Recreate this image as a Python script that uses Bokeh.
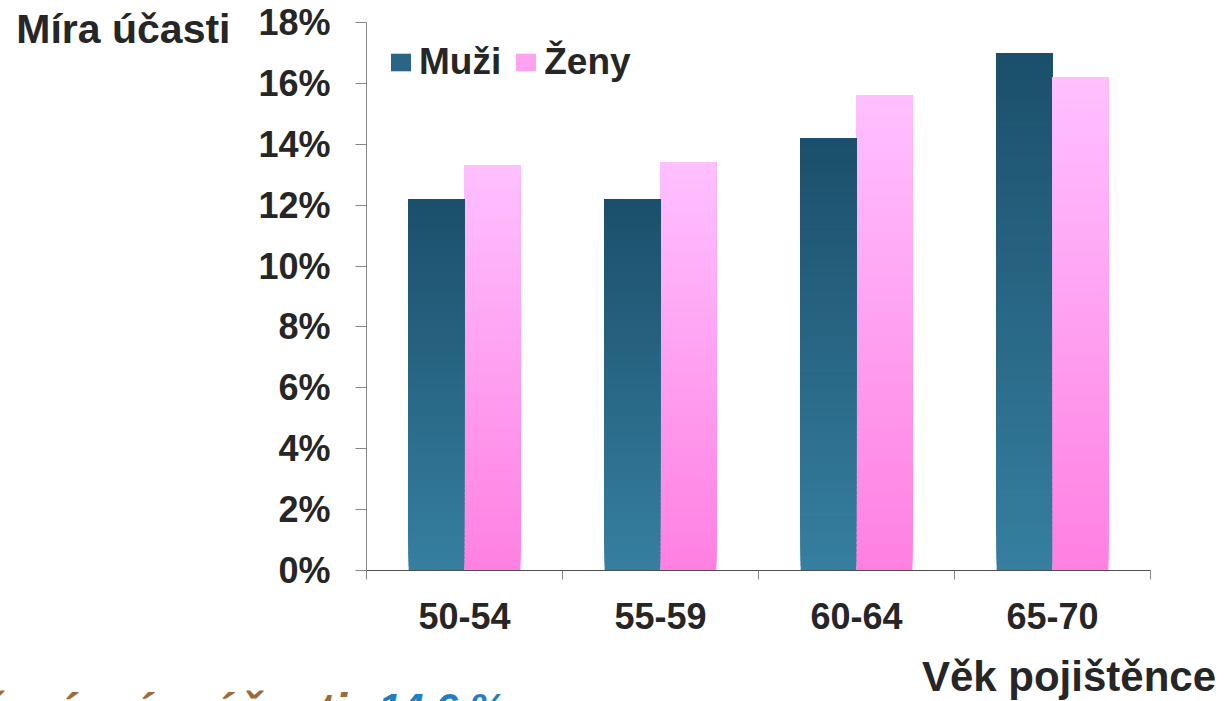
from bokeh.plotting import figure
from bokeh.models import (ColumnDataSource, FixedTicker, PrintfTickFormatter,
                          Legend, LegendItem, Range1d, LinearAxis, Div)
from bokeh.layouts import column
from bokeh.embed import file_html
from bokeh.resources import INLINE

# ---- data ----
categories = ["50-54", "55-59", "60-64", "65-70"]
muzi = [12.2, 12.2, 14.2, 17.0]
zeny = [13.3, 13.4, 15.6, 16.2]
series_names = ["Muži", "Ženy"]
y_ticks = [0, 2, 4, 6, 8, 10, 12, 14, 16, 18]
y_title = "Míra účasti"
x_title = "Věk pojištěnce"
avg_label = "Průměrná míra účasti:"
avg_value = "14,6 %"

# ---- styling ----
FONT = "Liberation Sans"
TXT = "#262626"
grad = {
    "Muži": ((0x36, 0x7F, 0xA0), (0x1B, 0x4F, 0x6B)),   # bottom, top
    "Ženy": ((0xFF, 0x80, 0xE2), (0xFF, 0xC0, 0xFF)),
}
N = 90
bar_w = 0.285

def mix(c0, c1, t):
    return "#%02x%02x%02x" % tuple(int(round(a + (b - a) * t)) for a, b in zip(c0, c1))

# gradient bars: each layer spans from its start up to the bar's value,
# later (higher) layers are painted over earlier ones -> seamless gradient
xs, bottoms, tops, colors = [], [], [], []
for k in range(N):
    for s_idx, (name, vals) in enumerate(zip(series_names, [muzi, zeny])):
        off = (-0.5 if s_idx == 0 else 0.5) * bar_w
        c0, c1 = grad[name]
        for i, v in enumerate(vals):
            xs.append(i + 0.5 + off)
            bottoms.append(v * k / N)
            tops.append(v)
            colors.append(mix(c0, c1, (k + 0.5) / N))

src = ColumnDataSource(dict(x=xs, bottom=bottoms, top=tops, color=colors))

W = 1225
H1 = 645
H2 = 56

p = figure(width=W, height=H1, output_backend="svg", toolbar_location=None,
           x_range=Range1d(0, len(categories)), y_range=Range1d(0, 18))
p.min_border_left = 366
p.min_border_right = 75
p.min_border_top = 22
p.min_border_bottom = 75
p.outline_line_color = None
p.background_fill_color = "white"
p.border_fill_color = "white"
p.xgrid.visible = False
p.ygrid.visible = False

p.vbar(x="x", bottom="bottom", top="top", width=bar_w, source=src,
       fill_color="color", line_color=None)

# legend proxies (zero height, invisible in plot)
r_m = p.vbar(x=[0.5], top=[0], bottom=[0], width=0, fill_color="#2a6585", line_color=None)
r_z = p.vbar(x=[0.5], top=[0], bottom=[0], width=0, fill_color="#ffa2f0", line_color=None)
legend = Legend(items=[LegendItem(label=series_names[0], renderers=[r_m]),
                       LegendItem(label=series_names[1], renderers=[r_z])],
                location=(22, 487), orientation="horizontal")
legend.margin = 0
legend.padding = 0
legend.spacing = 12
legend.glyph_width = 25
legend.glyph_height = 22
legend.label_standoff = 6
legend.label_text_font = FONT
legend.label_text_font_style = "bold"
legend.label_text_font_size = "37px"
legend.label_text_color = TXT
legend.border_line_color = None
legend.background_fill_alpha = 0
p.add_layout(legend)

# y axis
yax = p.yaxis[0]
yax.ticker = FixedTicker(ticks=y_ticks, minor_ticks=[])
yax.formatter = PrintfTickFormatter(format="%d%%")
yax.axis_line_color = "#868686"
yax.major_tick_line_color = "#868686"
yax.major_tick_in = 0
yax.major_tick_out = 11
yax.minor_tick_line_color = None
yax.major_label_standoff = 25
yax.major_label_text_font = FONT
yax.major_label_text_font_style = "bold"
yax.major_label_text_font_size = "36px"
yax.major_label_text_color = TXT

# y title as an outer left axis with a single labelled tick at the top
yt = LinearAxis(ticker=FixedTicker(ticks=[17.8], minor_ticks=[]),
                major_label_overrides={17.8: y_title})
yt.axis_line_color = None
yt.major_tick_line_color = None
yt.minor_tick_line_color = None
yt.major_tick_in = 0
yt.major_tick_out = 0
yt.major_label_standoff = 25
yt.major_label_text_font = FONT
yt.major_label_text_font_style = "bold"
yt.major_label_text_font_size = "41px"
yt.major_label_text_color = TXT
p.add_layout(yt, "left")

# x axis: labels at centers, tick marks at boundaries
xax = p.xaxis[0]
centers = [i + 0.5 for i in range(len(categories))]
xax.ticker = FixedTicker(ticks=centers, minor_ticks=list(range(len(categories) + 1)))
xax.major_label_overrides = {c: lab for c, lab in zip(centers, categories)}
xax.axis_line_color = "#4d4d4d"
xax.major_tick_line_color = None
xax.major_tick_out = 0
xax.major_tick_in = 0
xax.minor_tick_line_color = "#868686"
xax.minor_tick_out = 9
xax.minor_tick_in = 0
xax.major_label_standoff = 23
xax.major_label_text_font = FONT
xax.major_label_text_font_style = "bold"
xax.major_label_text_font_size = "36px"
xax.major_label_text_color = TXT

# bottom strip: x title and the summary line (cut off by the page edge as in the original)
font_css = "font-family:'Liberation Sans',Arial,sans-serif;font-weight:bold;line-height:normal;white-space:nowrap;position:absolute;margin:0;padding:0;"
html = (
    f'<div style="position:relative;width:{W}px;height:{H2}px;overflow:hidden;background:white;">'
    f'<span style="{font_css}font-size:42px;color:{TXT};right:9px;top:8px;">{x_title}</span>'
    f'<span style="{font_css}font-size:48px;font-style:italic;color:#9c6b3a;right:{W - 363}px;top:38px;">{avg_label}</span>'
    f'<span style="{font_css}font-size:41px;font-style:italic;color:#1f7fc4;left:378px;top:40px;">{avg_value}</span>'
    '</div>'
)
d = Div(text=html, width=W, height=H2, margin=(0, 0, 0, 0))

layout = column(p, d, spacing=0)
open("out.html", "w").write(file_html(layout, INLINE))
